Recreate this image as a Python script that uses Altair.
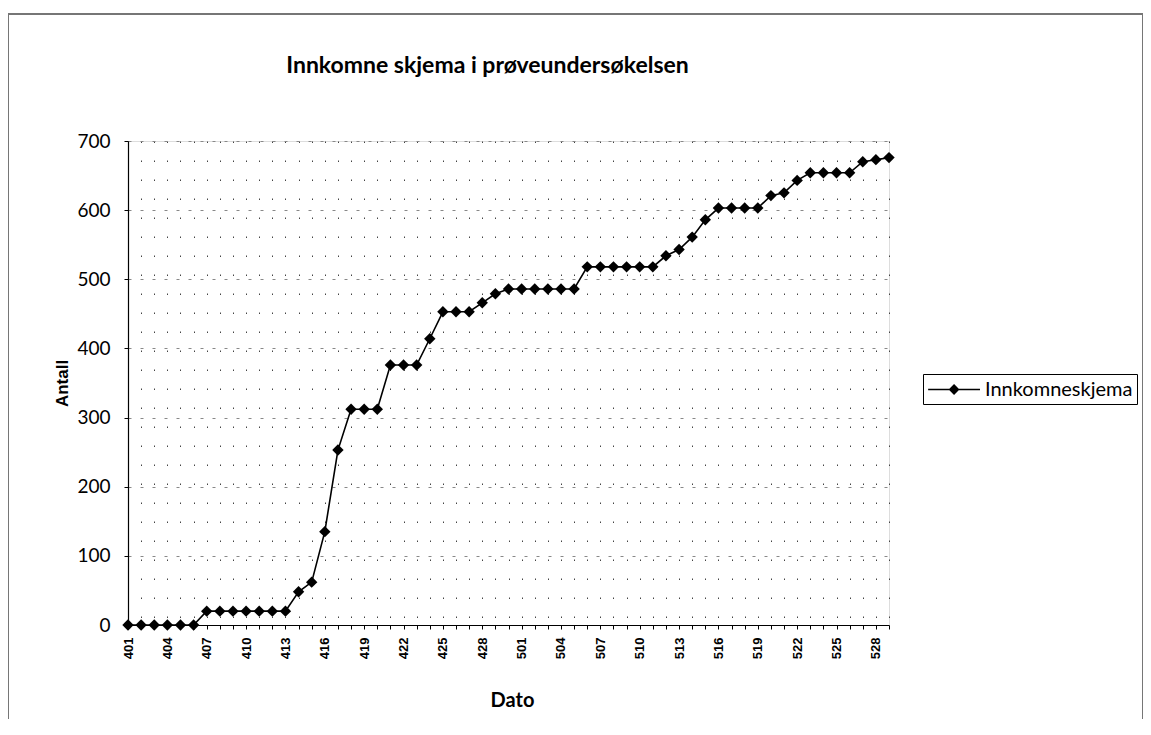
import json
import altair as alt
import pandas as pd

dates = ["401", "402", "403", "404", "405", "406", "407", "408", "409", "410",
         "411", "412", "413", "414", "415", "416", "417", "418", "419", "420",
         "421", "422", "423", "424", "425", "426", "427", "428", "429", "430",
         "501", "502", "503", "504", "505", "506", "507", "508", "509", "510",
         "511", "512", "513", "514", "515", "516", "517", "518", "519", "520",
         "521", "522", "523", "524", "525", "526", "527", "528", "529"]

counts = [0, 0, 0, 0, 0, 0, 20, 20, 20, 20,
          20, 20, 20, 48, 62, 135, 253, 312, 312, 312,
          376, 376, 376, 414, 453, 453, 453, 466, 479, 486,
          486, 486, 486, 486, 486, 518, 518, 518, 518, 518,
          518, 534, 543, 561, 586, 603, 603, 603, 603, 621,
          625, 643, 654, 654, 654, 654, 670, 673, 676]

series_name = "Innkomneskjema"
y_ticks = [0, 100, 200, 300, 400, 500, 600, 700]
shown_labels = dates[::3]

df = pd.DataFrame({"Dato": dates, "Antall": counts, "serie": [series_name] * len(dates)})

label_expr = "indexof(" + json.dumps(shown_labels) + ", datum.value) >= 0 ? datum.value : ''"

x_enc = alt.X(
    "Dato:O",
    sort=dates,
    scale=alt.Scale(type="point", padding=0, domain=dates),
    axis=alt.Axis(
        title="Dato",
        labelExpr=label_expr,
        labelAngle=-90,
        labelFont="Liberation Sans",
        labelFontSize=13,
        labelFontWeight="bold",
        labelColor="black",
        labelPadding=8,
        tickSize=4,
        tickColor="black",
        domainColor="black",
        domainWidth=1.2,
        grid=True,
        gridColor="#444444",
        gridDash=[1.5, 17.5],
        gridWidth=1,
        titleFont="Lato",
        titleFontSize=20,
        titleFontWeight="bold",
        titleColor="black",
        titleX=384,
        titleY=75,
        titleBaseline="middle",
        titleAlign="center",
    ),
)

y_enc = alt.Y(
    "Antall:Q",
    scale=alt.Scale(domain=[0, 700], nice=False),
    axis=alt.Axis(
        title="Antall",
        values=y_ticks,
        labelFont="Lato",
        labelFontSize=19,
        labelColor="black",
        labelPadding=14,
        tickSize=4,
        tickColor="black",
        domainColor="black",
        domainWidth=1.2,
        grid=True,
        gridColor="#888888",
        gridDash=[3, 9],
        gridWidth=1,
        titleFont="Liberation Sans",
        titleFontSize=17,
        titleFontWeight="bold",
        titleColor="black",
        titleAngle=-90,
        titleX=-66,
        titleY=242,
        titleAlign="center",
        titleBaseline="middle",
    ),
)

symbol_path = "M-1,0L4,0M1.5,-0.42L1.92,0L1.5,0.42L1.08,0Z"

line = alt.Chart(df).mark_line(strokeWidth=1.6).encode(
    x=x_enc,
    y=y_enc,
    color=alt.Color(
        "serie:N",
        scale=alt.Scale(range=["black"]),
        legend=alt.Legend(
            title=None,
            orient="none",
            legendX=795,
            legendY=233,
            symbolType=symbol_path,
            symbolSize=430,
            symbolStrokeWidth=1.5,
            symbolStrokeColor="black",
            symbolFillColor="black",
            labelFont="Lato",
            labelFontSize=20,
            labelColor="black",
            labelOffset=35,
            padding=4,
            strokeColor="black",
            fillColor="white",
            cornerRadius=0,
        ),
    ),
)

points = alt.Chart(df).mark_point(
    shape="diamond", filled=True, size=130, color="black", opacity=1
).encode(x=x_enc, y=y_enc)

frame = alt.Chart(df).mark_rect(
    fill=None, stroke="#777777", strokeWidth=1
).encode(
    x=alt.value(-120), x2=alt.value(1015), y=alt.value(-127), y2=alt.value(600)
)

chart = alt.layer(frame, line, points).properties(
    width=761,
    height=484,
    padding={"left": 120, "top": 133, "right": 254, "bottom": 94},
    autosize=alt.AutoSizeParams(type="none"),
    title=alt.TitleParams(
        text="Innkomne skjema i prøveundersøkelsen",
        font="Lato",
        fontSize=23,
        fontWeight="bold",
        color="black",
        anchor="middle",
        frame="group",
        dx=-21,
        offset=-82,
        baseline="alphabetic",
    ),
).configure_view(stroke="#555555", strokeWidth=1).configure(background="white")

chart.save("out.html", embed_options={"renderer": "svg", "actions": False})
